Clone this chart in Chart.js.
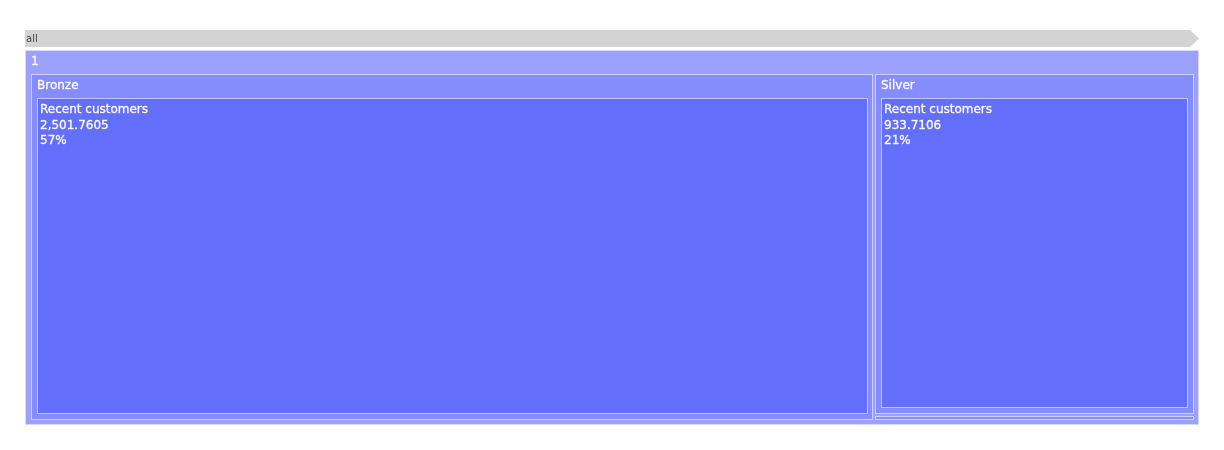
<!DOCTYPE html>
<html><head><meta charset="utf-8">
<script src="https://cdn.jsdelivr.net/npm/chart.js@4/dist/chart.umd.min.js"></script>
<style>html,body{margin:0;padding:0;background:#fff}#wrap{width:1224px;height:450px}</style>
</head><body><div id="wrap"><canvas id="c" width="1224" height="450"></canvas></div>
<script>
// ---- data ----
const pathLabels = ['all'];
const rootLabel = '1';
const groupLabels = ['Bronze', 'Silver', 'Gold'];
const leafGroups = ['Bronze', 'Silver', 'Gold'];
const leafLabels = ['Recent customers', 'Recent customers', 'Recent customers'];
const leafValues = [2501.7605, 933.7106, 16];
const leafPercents = ['57%', '21%', '0%'];

// ---- styles ----
const FONT = '"DejaVu Sans", Verdana, sans-serif';
const COLORS = ['#9ba1fc', '#858cfb', '#636efa'];
const LINE = 'rgba(255,255,255,0.6)';
const PAD = {top: 24, left: 6, right: 5.5, bottom: 5.5, inner: 2};

function buildTree() {
  const root = {label: rootLabel, depth: 0, children: []};
  groupLabels.forEach(g => {
    const node = {label: g, depth: 1, children: []};
    leafLabels.forEach((l, i) => {
      if (leafGroups[i] === g) node.children.push({label: l, depth: 2, value: leafValues[i], pct: leafPercents[i], children: []});
    });
    node.value = node.children.reduce((s, c) => s + c.value, 0);
    node.children.sort((a, b) => b.value - a.value);
    root.children.push(node);
  });
  root.children.sort((a, b) => b.value - a.value);
  root.value = root.children.reduce((s, c) => s + c.value, 0);
  return root;
}

function dice(nodes, total, x0, y0, x1, y1) {
  let k = total ? (x1 - x0) / total : 0;
  nodes.forEach(n => { n.y0 = y0; n.y1 = y1; n.x0 = x0; n.x1 = x0 += n.value * k; });
}
function slice(nodes, total, x0, y0, x1, y1) {
  let k = total ? (y1 - y0) / total : 0;
  nodes.forEach(n => { n.x0 = x0; n.x1 = x1; n.y0 = y0; n.y1 = y0 += n.value * k; });
}
function squarify(parent, x0, y0, x1, y1) {
  const nodes = parent.children, n = nodes.length, ratio = 1;
  let i0 = 0, i1 = 0, value = parent.value;
  while (i0 < n) {
    const dx = x1 - x0, dy = y1 - y0;
    let sumValue;
    do sumValue = nodes[i1++].value; while (!sumValue && i1 < n);
    let minValue = sumValue, maxValue = sumValue;
    const alpha = Math.max(dy / dx, dx / dy) / (value * ratio);
    let beta = sumValue * sumValue * alpha;
    let minRatio = Math.max(maxValue / beta, beta / minValue);
    for (; i1 < n; ++i1) {
      const nv = nodes[i1].value;
      sumValue += nv;
      if (nv < minValue) minValue = nv;
      if (nv > maxValue) maxValue = nv;
      beta = sumValue * sumValue * alpha;
      const newRatio = Math.max(maxValue / beta, beta / minValue);
      if (newRatio > minRatio) { sumValue -= nv; break; }
      minRatio = newRatio;
    }
    const row = nodes.slice(i0, i1);
    if (dx < dy) { const ny = dy ? y0 + dy * sumValue / value : y1; dice(row, sumValue, x0, y0, x1, ny); y0 = ny; }
    else { const nx = dx ? x0 + dx * sumValue / value : x1; slice(row, sumValue, x0, y0, nx, y1); x0 = nx; }
    value -= sumValue; i0 = i1;
  }
}
function position(node, p) {
  let x0 = node.x0 + p, y0 = node.y0 + p, x1 = node.x1 - p, y1 = node.y1 - p;
  if (x1 < x0) x0 = x1 = (x0 + x1) / 2;
  if (y1 < y0) y0 = y1 = (y0 + y1) / 2;
  node.x0 = x0; node.y0 = y0; node.x1 = x1; node.y1 = y1;
  if (node.children.length) {
    const q = PAD.inner / 2;
    let cx0 = x0 + PAD.left - q, cy0 = y0 + PAD.top - q, cx1 = x1 - PAD.right + q, cy1 = y1 - PAD.bottom + q;
    if (cx1 < cx0) cx0 = cx1 = (cx0 + cx1) / 2;
    if (cy1 < cy0) cy0 = cy1 = (cy0 + cy1) / 2;
    squarify(node, cx0, cy0, cx1, cy1);
    node.children.forEach(c => position(c, q));
  }
}

function fmt(v) { return v.toLocaleString('en-US', {maximumFractionDigits: 4}); }

function heavyText(ctx, t, x, y) {
  ctx.fillText(t, x, y);
  ctx.strokeText(t, x, y);
}

const treemapPlugin = {
  id: 'treemap',
  afterDraw(chart) {
    const ctx = chart.ctx, xs = chart.scales.x, ys = chart.scales.y;
    const root = buildTree();
    root.x0 = xs.getPixelForValue(0); root.x1 = xs.getPixelForValue(1);
    root.y0 = ys.getPixelForValue(0); root.y1 = ys.getPixelForValue(1);
    position(root, 0);

    // path bar
    const pL = Math.round(root.x0), pR = Math.round(root.x1), pT = Math.round(root.y0) - 20, pB = Math.round(root.y0) - 3;
    ctx.save();
    ctx.fillStyle = '#d3d3d3';
    ctx.beginPath();
    ctx.moveTo(pL, pT); ctx.lineTo(pR - 9, pT); ctx.lineTo(pR, (pT + pB) / 2); ctx.lineTo(pR - 9, pB); ctx.lineTo(pL, pB);
    ctx.closePath(); ctx.fill();
    ctx.fillStyle = '#444';
    ctx.font = '10px ' + FONT;
    ctx.textBaseline = 'alphabetic';
    ctx.fillText(pathLabels.join(' > '), pL + 1, pB - 5);

    const all = [];
    (function walk(n) { all.push(n); n.children.forEach(walk); })(root);

    all.forEach(n => {
      const x0 = Math.round(n.x0), y0 = Math.round(n.y0), x1 = Math.round(n.x1), y1 = Math.round(n.y1);
      if (x1 - x0 < 1 || y1 - y0 < 1) return;
      ctx.fillStyle = COLORS[n.depth];
      ctx.fillRect(x0, y0, x1 - x0, y1 - y0);
      ctx.strokeStyle = LINE; ctx.lineWidth = 1;
      ctx.strokeRect(x0 + 0.5, y0 + 0.5, x1 - x0 - 1, y1 - y0 - 1);
    });

    ctx.fillStyle = '#fff';
    ctx.strokeStyle = 'rgba(255,255,255,0.8)';
    ctx.lineWidth = 0.35;
    ctx.font = '12px ' + FONT;
    all.forEach(n => {
      const x0 = Math.round(n.x0), y0 = Math.round(n.y0), x1 = Math.round(n.x1), y1 = Math.round(n.y1);
      if (n.children.length) {
        if (y1 - y0 < 20 || x1 - x0 < 20) return;
        heavyText(ctx, n.label, x0 + 6, y0 + 14.5);
      } else {
        if (y1 - y0 < 50 || x1 - x0 < 40) return;
        const lines = [n.label, fmt(n.value), n.pct];
        lines.forEach((t, i) => heavyText(ctx, t, x0 + 3, y0 + 15 + i * 15.5));
      }
    });
    ctx.restore();
  }
};

new Chart(document.getElementById('c').getContext('2d'), {
  type: 'scatter',
  data: {datasets: []},
  options: {
    responsive: false,
    animation: false,
    layout: {padding: {left: 25, right: 25, top: 50, bottom: 25}},
    scales: {
      x: {display: false, min: 0, max: 1},
      y: {display: false, min: 0, max: 1, reverse: true}
    },
    plugins: {legend: {display: false}, tooltip: {enabled: false}}
  },
  plugins: [treemapPlugin]
});
</script>
</body></html>
